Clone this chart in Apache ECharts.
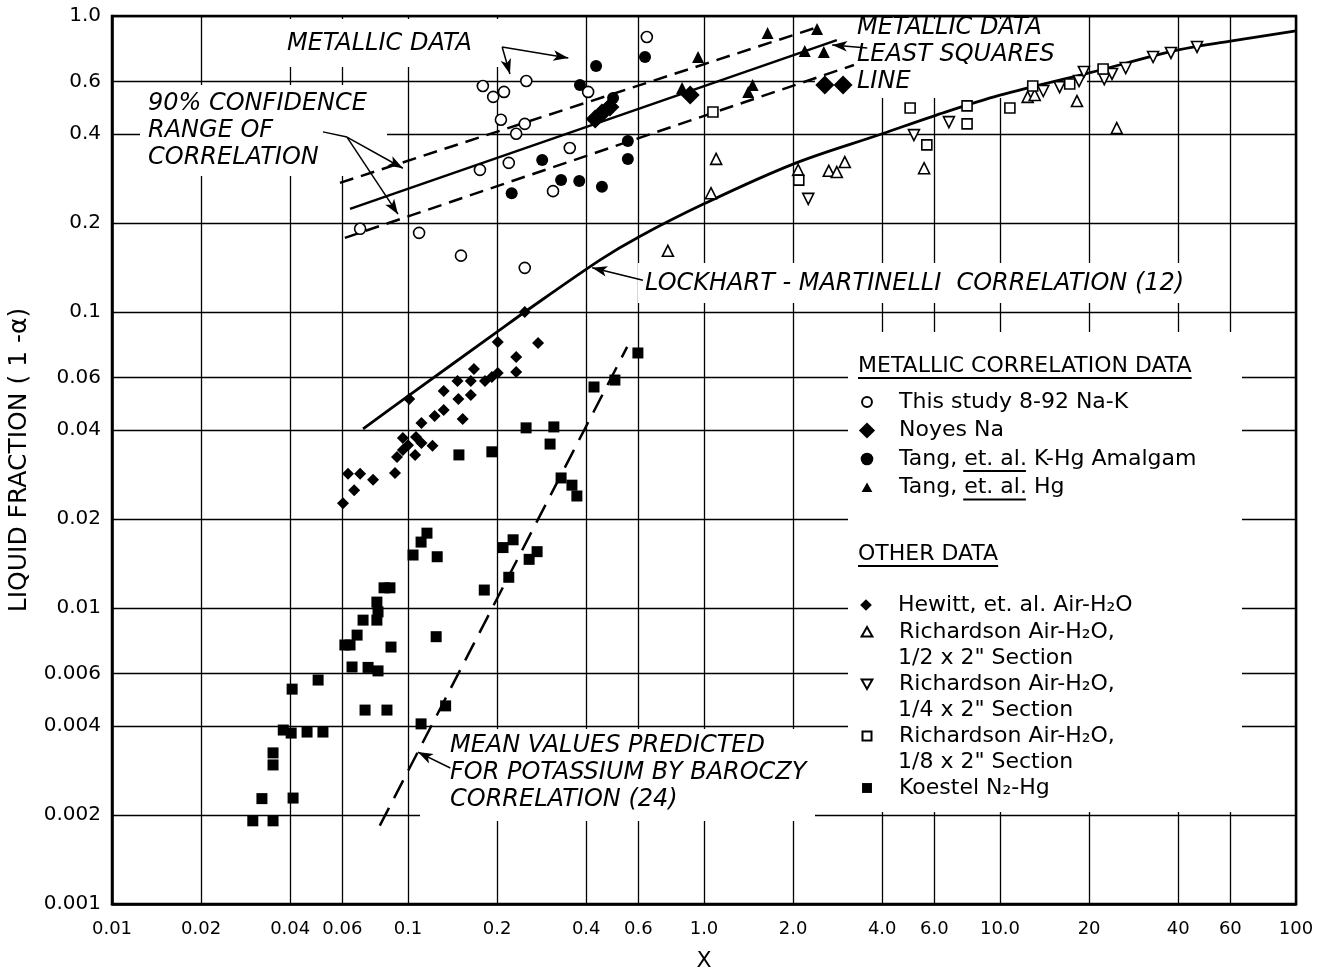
<!DOCTYPE html>
<html><head><meta charset="utf-8">
<script src="https://cdn.jsdelivr.net/npm/echarts@6/dist/echarts.min.js"></script>
<style>html,body{margin:0;padding:0;background:#fff}#c{width:1323px;height:971px}</style>
</head><body><div id="c"></div>
<script>
// ---- tick values / labels ----
const xTickValues = [0.01,0.02,0.04,0.06,0.1,0.2,0.4,0.6,1,2,4,6,10,20,40,60,100];
const xTickLabels = ['0.01','0.02','0.04','0.06','0.1','0.2','0.4','0.6','1.0','2.0','4.0','6.0','10.0','20','40','60','100'];
const yTickValues = [0.001,0.002,0.004,0.006,0.01,0.02,0.04,0.06,0.1,0.2,0.4,0.6,1];
const yTickLabels = ['0.001','0.002','0.004','0.006','0.01','0.02','0.04','0.06','0.1','0.2','0.4','0.6','1.0'];

// ---- metallic correlation data ----
const thisStudy = [[0.0689,0.191],[0.109,0.185],[0.151,0.155],[0.248,0.141],[0.175,0.302],[0.179,0.58],[0.194,0.533],[0.211,0.554],[0.251,0.603],[0.206,0.446],[0.248,0.432],[0.232,0.40],[0.352,0.358],[0.219,0.319],[0.309,0.256],[0.406,0.554],[0.641,0.849]];
const noyesNa = [[0.429,0.449],[0.452,0.470],[0.481,0.493],[0.898,0.541],[2.56,0.585],[2.95,0.585]];
const tangKHg = [[0.432,0.678],[0.381,0.585],[0.493,0.528],[0.632,0.727],[0.553,0.378],[0.553,0.329],[0.284,0.326],[0.224,0.252],[0.329,0.279],[0.379,0.277],[0.452,0.265]];
const tangHg = [[1.64,0.876],[2.41,0.904],[2.19,0.762],[2.54,0.756],[1.46,0.585],[1.41,0.554],[0.955,0.727],[0.843,0.571]];

// ---- other data ----
const hewitt = [[0.248,0.1],[0.201,0.0792],[0.275,0.0786],[0.232,0.0705],[0.232,0.0627],[0.167,0.0642],[0.201,0.0622],[0.192,0.0603],[0.182,0.0585],[0.147,0.0585],[0.163,0.0585],[0.132,0.0541],[0.163,0.0524],[0.148,0.0508],[0.101,0.0508],[0.132,0.0467],[0.123,0.0445],[0.153,0.0435],[0.111,0.0422],[0.0961,0.0375],[0.1064,0.0378],[0.1,0.0355],[0.111,0.0361],[0.121,0.0353],[0.0918,0.0324],[0.1057,0.0329],[0.0961,0.0342],[0.0904,0.0286],[0.0762,0.0271],[0.0627,0.0284],[0.0689,0.0284],[0.0658,0.0250],[0.0603,0.0226]];
const richardsonHalf = [[0.755,0.161],[1.056,0.252],[1.099,0.329],[2.08,0.302],[2.64,0.30],[2.81,0.297],[2.99,0.321],[5.54,0.306],[12.4,0.533],[13.1,0.541],[18.2,0.516],[24.8,0.418]];
const richardsonQuarter = [[2.25,0.241],[5.12,0.396],[6.72,0.438],[14.0,0.558],[15.9,0.575],[18.5,0.603],[19.2,0.647],[22.5,0.612],[23.9,0.637],[26.6,0.667],[32.9,0.727],[37.8,0.750],[46.3,0.786]];
const richardsonEighth = [[1.072,0.474],[2.09,0.279],[4.97,0.489],[5.66,0.367],[7.74,0.497],[7.74,0.432],[10.8,0.489],[12.9,0.58],[17.2,0.589],[22.3,0.662]];
const koestel = [[0.0299,0.00191],[0.0321,0.00227],[0.035,0.00191],[0.035,0.00324],[0.035,0.00295],[0.0379,0.00387],[0.0403,0.00378],[0.0406,0.00532],[0.0409,0.00228],[0.0456,0.00381],[0.0497,0.00571],[0.0516,0.00381],[0.0612,0.0075],[0.0637,0.0075],[0.0673,0.0081],[0.0705,0.0091],[0.0785,0.0091],[0.0792,0.0097],[0.0785,0.01047],[0.083,0.0117],[0.0869,0.0117],[0.0876,0.00738],[0.0647,0.00632],[0.0733,0.0063],[0.0792,0.00613],[0.0716,0.00452],[0.0849,0.00452],[0.1107,0.00406],[0.134,0.00467],[0.1245,0.008],[0.181,0.0115],[0.219,0.0127],[0.2566,0.0146],[0.273,0.0155],[0.2094,0.016],[0.2265,0.017],[0.104,0.0151],[0.1107,0.0167],[0.1159,0.0179],[0.1255,0.0149],[0.1486,0.0329],[0.192,0.0337],[0.2506,0.0406],[0.311,0.0409],[0.302,0.0358],[0.329,0.0275],[0.358,0.026],[0.372,0.0239],[0.425,0.0558],[0.5,0.0589],[0.598,0.0727]];

// ---- correlation lines ----
const lockhartMartinelli = [[0.0705,0.0403],[0.1,0.052],[0.2,0.0856],[0.248,0.1],[0.446,0.150],[0.6,0.179],[1.0,0.232],[2,0.316],[4,0.4],[6,0.46],[10,0.54],[20,0.642],[40,0.768],[60,0.823],[100,0.89]];
const leastSquares = [[0.0637,0.223],[2.81,0.829]];
const confUpper = [[0.0589,0.273],[2.43,0.918]];
const confLower = [[0.0612,0.178],[3.21,0.683]];
const baroczy = [[0.0803,0.00184],[0.55,0.0762]];

// ---- annotation arrows (data coordinates: from, to, arrow?) ----
const arrows = [
  [[0.208,0.786],[0.348,0.721],true],
  [[0.208,0.786],[0.221,0.637],true],
  [[0.0516,0.406],[0.0622,0.390],false],
  [[0.0622,0.390],[0.0961,0.306],true],
  [[0.0622,0.390],[0.0925,0.214],true],
  [[3.56,0.78],[2.71,0.798],true],
  [[0.622,0.128],[0.419,0.141],true],
  [[0.139,0.00288],[0.108,0.00326],true]
];

function lbl(values, labels){
  return function(v){
    const i = values.findIndex(t => Math.abs(Math.log10(t) - Math.log10(v)) < 1e-6);
    return i >= 0 ? labels[i] : '';
  };
}
function sc(name, data, symbol, size, filled, rotate){
  return {type:'scatter', name, data, symbol, symbolSize:size, symbolRotate: rotate||0,
    itemStyle:{color: filled?'#000':'#fff', borderColor:'#000', borderWidth: filled?0:1.6, opacity:1},
    z:5, silent:true, animation:false};
}
function ln(data, dash, width, smooth){
  return {type:'line', data, symbol:'none', smooth: smooth||false, silent:true, animation:false, z:3,
    lineStyle:{color:'#000', width: width||2.5, type: dash||'solid'}};
}
const FONT = '"DejaVu Sans", sans-serif';
const ctx = document.createElement('canvas').getContext('2d');
function tw(t, font){ ctx.font = font; return ctx.measureText(t).width; }

// legend icons drawn in a 20x20 box (the two leading moves fix the box)
const B = 'path://M0 0 M20 20 ';
const icons = {
  openCircle: B + 'M15.5 10 A5.5 5.5 0 1 1 4.5 10 A5.5 5.5 0 1 1 15.5 10 Z',
  bigDiamond: B + 'M10 1 L19 10 L10 19 L1 10 Z',
  filledCircle: B + 'M17 10 A7 7 0 1 1 3 10 A7 7 0 1 1 17 10 Z',
  triUp: B + 'M10 4.5 L16 15 L4 15 Z',
  smallDiamond: B + 'M10 3.5 L16.5 10 L10 16.5 L3.5 10 Z',
  triDown: B + 'M4 5 L16 5 L10 15.5 Z',
  square: B + 'M5 5 L15 5 L15 15 L5 15 Z',
  filledSquare: B + 'M4.5 4.5 L15.5 4.5 L15.5 15.5 L4.5 15.5 Z'
};

const legFont = '22px "DejaVu Sans"';
const legText = {fontFamily:FONT, fontSize:22, lineHeight:26, color:'#000', padding:[0,0,0,18]};
const nStudy = 'This study 8-92 Na-K';
const nNoyes = 'Noyes Na';
const nTang1 = 'Tang, et. al. K-Hg Amalgam';
const nTang2 = 'Tang, et. al. Hg';
const nHewitt = 'Hewitt, et. al. Air-H₂O';
const nR1 = 'Richardson Air-H₂O,\n1/2 x 2" Section';
const nR2 = 'Richardson Air-H₂O,\n1/4 x 2" Section';
const nR3 = 'Richardson Air-H₂O,\n1/8 x 2" Section';
const nKoestel = 'Koestel N₂-Hg';

const annFont = 'italic 24px "DejaVu Sans"';
const white = (x,y,w,h)=>({type:'rect', z:1, silent:true, shape:{x,y,width:w,height:h}, style:{fill:'#fff'}});
const ann = (x,y,text,font,lh)=>({type:'text', z:10, silent:true, x, y, style:{text, font: font||annFont, fill:'#000', verticalAlign:'middle', align:'left', lineHeight: lh||27}});
const uline = (x,y,w)=>({type:'line', z:10, silent:true, shape:{x1:x,y1:y,x2:x+w,y2:y}, style:{stroke:'#000', lineWidth:1.8}});

const legX = 857, legTextX = 898;
const tangOff = tw('Tang, ', legFont), etalW = tw('et. al.', legFont);
const legCommon = {left:legX, orient:'vertical', padding:0, itemWidth:18, itemHeight:18, selectedMode:false, textStyle:legText};

const chart = echarts.init(document.getElementById('c'), null, {renderer:'canvas'});
chart.setOption({
  backgroundColor:'#fff',
  animation:false,
  grid:{left:112, right:27, top:16, bottom:67, outerBoundsMode:'none', containLabel:false,
    show:true, borderColor:'#000', borderWidth:2.5, backgroundColor:'transparent'},
  xAxis:{type:'log', logBase:10, min:0.01, max:100,
    name:'X', nameLocation:'middle', nameGap:46, nameTextStyle:{fontFamily:FONT, fontSize:22, color:'#000'},
    axisLine:{show:true, lineStyle:{color:'#000', width:2.5}},
    axisTick:{show:false, customValues:xTickValues},
    axisLabel:{customValues:xTickValues, formatter:lbl(xTickValues,xTickLabels), fontFamily:FONT, fontSize:18, color:'#000', margin:16},
    splitLine:{show:true, lineStyle:{color:'#000', width:1.3}},
    minorSplitLine:{show:false}},
  yAxis:{type:'log', logBase:10, min:0.001, max:1,
    name:'LIQUID FRACTION ( 1 -α)', nameLocation:'middle', nameGap:80, nameRotate:90,
    nameTextStyle:{fontFamily:FONT, fontSize:25, color:'#000'},
    axisLine:{show:true, lineStyle:{color:'#000', width:2.5}},
    axisTick:{show:false, customValues:yTickValues},
    axisLabel:{customValues:yTickValues, formatter:lbl(yTickValues,yTickLabels), fontFamily:FONT, fontSize:20, color:'#000', margin:11},
    splitLine:{show:true, lineStyle:{color:'#000', width:1.3}}},
  legend:[
    Object.assign({top:389, itemGap:2.5, data:[
      {name:nStudy, icon:icons.openCircle}, {name:nNoyes, icon:icons.bigDiamond},
      {name:nTang1, icon:icons.filledCircle}, {name:nTang2, icon:icons.triUp}]}, legCommon),
    Object.assign({top:592, itemGap:0, data:[{name:nHewitt, icon:icons.smallDiamond}]}, legCommon),
    Object.assign({top:619, itemGap:26, formatter: n => n.split('\n')[0], data:[
      {name:nR1, icon:icons.triUp}, {name:nR2, icon:icons.triDown},
      {name:nR3, icon:icons.square}, {name:nKoestel, icon:icons.filledSquare}]}, legCommon)
  ],
  graphic:{elements:[
    white(268,19,252,48),
    white(140,85,247,91),
    white(815,19,272,79),
    white(638,263,578,40),
    white(420,729,395,92),
    white(848,332,394,480),
    ann(287,44,'METALLIC DATA'),
    ann(148,131,'90% CONFIDENCE\nRANGE OF\nCORRELATION'),
    ann(857,55,'METALLIC DATA\nLEAST SQUARES\nLINE'),
    ann(645,284,'LOCKHART - MARTINELLI  CORRELATION (12)'),
    ann(450,773,'MEAN VALUES PREDICTED\nFOR POTASSIUM BY BAROCZY\nCORRELATION (24)'),
    ann(858,366,'METALLIC CORRELATION DATA', legFont),
    uline(858,378,tw('METALLIC CORRELATION DATA', legFont)),
    ann(858,554,'OTHER DATA', legFont),
    uline(858,566,tw('OTHER DATA', legFont)),
    uline(legTextX+tangOff,471,etalW),
    uline(legTextX+tangOff,499.5,etalW),
    ann(legTextX,658,'1/2 x 2" Section', legFont),
    ann(legTextX,710,'1/4 x 2" Section', legFont),
    ann(legTextX,762,'1/8 x 2" Section', legFont)
  ]},
  series:[
    Object.assign(ln(lockhartMartinelli,'solid',2.8,0.35), {
      markLine:{silent:true, animation:false, symbol:'none', symbolSize:12, precision:6,
        label:{show:false}, emphasis:{disabled:true},
        lineStyle:{color:'#000', width:1.5, type:'solid'},
        data: arrows.map(a => [
          {coord:a[0], symbol:'none', symbolSize:1},
          {coord:a[1], symbol: a[2]?'arrow':'none', symbolSize:[8,15]}])}
    }),
    ln(leastSquares,'solid',2.5),
    ln(confUpper,[14,8],2.5),
    ln(confLower,[14,8],2.5),
    ln(baroczy,[20,11],2.5),
    sc(nStudy, thisStudy, 'circle', 11, false),
    sc(nNoyes, noyesNa, 'diamond', 19, true),
    sc(nTang1, tangKHg, 'circle', 12, true),
    sc(nTang2, tangHg, 'triangle', 12, true),
    sc(nHewitt, hewitt, 'diamond', 12, true),
    sc(nR1, richardsonHalf, 'triangle', 11, false),
    sc(nR2, richardsonQuarter, 'triangle', 11, false, 180),
    sc(nR3, richardsonEighth, 'rect', 10, false),
    sc(nKoestel, koestel, 'rect', 11, true)
  ]
});
</script></body></html>
